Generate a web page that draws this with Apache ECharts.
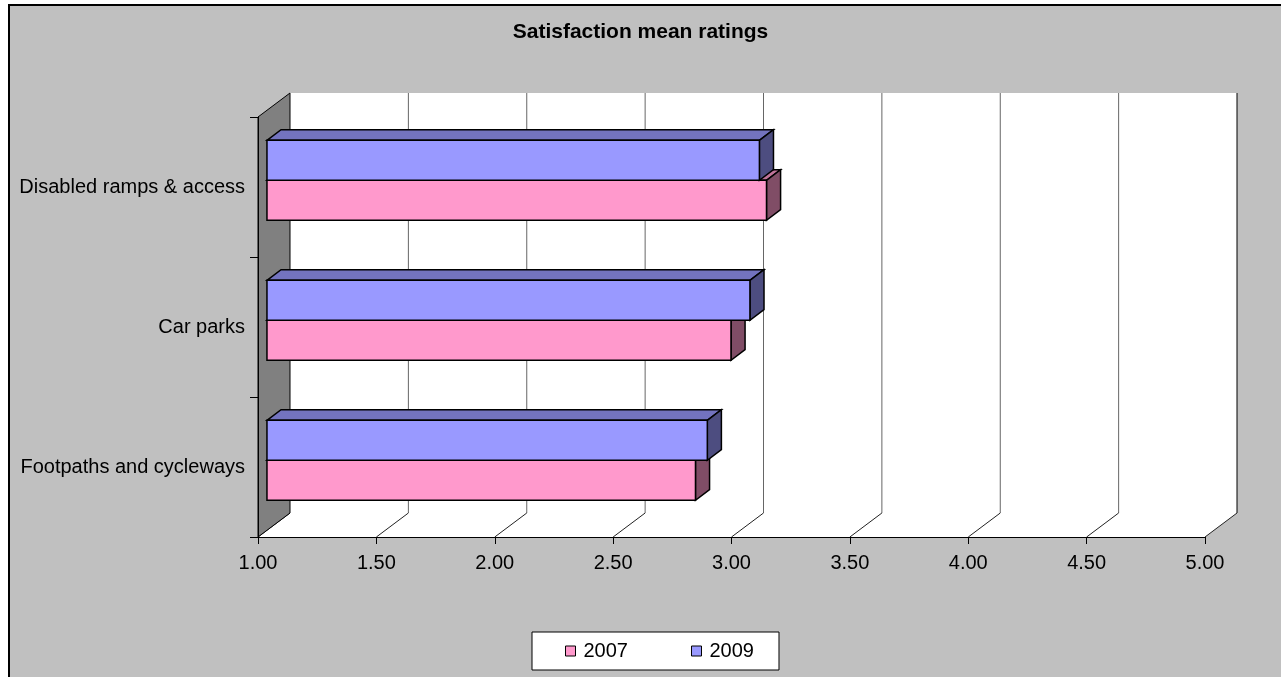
<!DOCTYPE html>
<html>
<head>
<meta charset="utf-8">
<title>Satisfaction mean ratings</title>
<script src="https://cdn.jsdelivr.net/npm/echarts@6/dist/echarts.min.js"></script>
<style>
  html, body { margin: 0; padding: 0; background: #fff; }
  #chart { width: 1281px; height: 677px; }
</style>
</head>
<body>
<div id="chart"></div>
<script>
// Categories, listed top to bottom
const categories = ['Disabled ramps & access', 'Car parks', 'Footpaths and cycleways'];
// Mean ratings per survey year
const values2007 = [3.11, 2.96, 2.81];
const values2009 = [3.08, 3.04, 2.86];
const seriesNames = ['2007', '2009'];
// Value axis ticks
const xTicks = [1, 1.5, 2, 2.5, 3, 3.5, 4, 4.5, 5];

const FONT = "'Liberation Sans', Arial, sans-serif";
// Depth vector of the 3D box (screen px) and bar placement within that depth
const DEPTH = { dx: 32, dy: -24 };
const BAR_FRONT = 0.28, BAR_DEPTH = 0.44, BAR_BAND = 0.2857;

const colors = {
  '2007': { front: '#FF99CC', top: '#BF7399', side: '#804D66' },
  '2009': { front: '#9999FF', top: '#7373BF', side: '#4D4D80' }
};

// Back wall, floor, side wall and gridlines of the 3D frame
function renderFrame(params, api) {
  const cs = params.coordSys;
  const top = cs.y, bottom = cs.y + cs.height;
  const xs = xTicks.map(v => api.coord([v, 0])[0]);
  const x0 = xs[0], x1 = xs[xs.length - 1];
  const dx = DEPTH.dx, dy = DEPTH.dy;
  const children = [];
  // back wall
  children.push({ type: 'polygon', shape: { points: [[x0 + dx, top + dy], [x1 + dx, top + dy], [x1 + dx, bottom + dy], [x0 + dx, bottom + dy]] },
    style: { fill: '#ffffff', stroke: null } });
  // floor
  children.push({ type: 'polygon', shape: { points: [[x0, bottom], [x0 + dx, bottom + dy], [x1 + dx, bottom + dy], [x1, bottom]] },
    style: { fill: '#ffffff', stroke: null } });
  // back wall gridlines
  xs.forEach((x, i) => {
    if (i === 0) return;
    children.push({ type: 'line', shape: { x1: x + dx, y1: top + dy, x2: x + dx, y2: bottom + dy },
      style: { stroke: i === xs.length - 1 ? '#000' : '#666666', lineWidth: 1 } });
  });
  // floor diagonals
  xs.forEach((x) => {
    children.push({ type: 'line', shape: { x1: x, y1: bottom, x2: x + dx, y2: bottom + dy },
      style: { stroke: '#222', lineWidth: 1 } });
  });
  // left side wall
  children.push({ type: 'polygon', shape: { points: [[x0, top], [x0 + dx, top + dy], [x0 + dx, bottom + dy], [x0, bottom]] },
    style: { fill: '#808080', stroke: '#000', lineWidth: 1 } });
  return { type: 'group', children: children };
}

// A 3D bar: front face, top face and right face
function makeBarRenderer(name, upper) {
  const c = colors[name];
  return function (params, api) {
    const cat = api.value(1);
    const val = api.value(0);
    const start = api.coord([xTicks[0], cat]);
    const end = api.coord([val, cat]);
    const band = api.size([0, 1])[1];
    const h = band * BAR_BAND;
    const fx = DEPTH.dx * BAR_FRONT, fy = DEPTH.dy * BAR_FRONT;
    const bx = DEPTH.dx * BAR_DEPTH, by = DEPTH.dy * BAR_DEPTH;
    const xL = start[0] + fx, xR = end[0] + fx;
    const yT = (upper ? start[1] - h : start[1]) + fy;
    const yB = yT + h;
    const stroke = { stroke: '#000', lineWidth: 1.5, lineJoin: 'miter' };
    return {
      type: 'group',
      children: [
        { type: 'polygon', shape: { points: [[xL, yT], [xL + bx, yT + by], [xR + bx, yT + by], [xR, yT]] },
          style: Object.assign({ fill: c.top }, stroke) },
        { type: 'polygon', shape: { points: [[xR, yT], [xR + bx, yT + by], [xR + bx, yB + by], [xR, yB]] },
          style: Object.assign({ fill: c.side }, stroke) },
        { type: 'rect', shape: { x: xL, y: yT, width: xR - xL, height: h },
          style: Object.assign({ fill: c.front }, stroke) }
      ]
    };
  };
}

const chart = echarts.init(document.getElementById('chart'), null, { renderer: 'canvas' });

chart.setOption({
  animation: false,
  backgroundColor: '#ffffff',
  textStyle: { fontFamily: FONT },
  graphic: [{
    type: 'rect', z: -10, silent: true,
    shape: { x: 9, y: 5, width: 1300, height: 700 },
    style: { fill: '#C0C0C0', stroke: '#000', lineWidth: 2 }
  }],
  title: {
    text: 'Satisfaction mean ratings',
    left: 'center',
    top: 22,
    padding: [0, 0, 0, 8],
    textStyle: { fontFamily: FONT, fontSize: 21, fontWeight: 'bold', color: '#000' }
  },
  legend: {
    data: seriesNames,
    left: 532,
    top: 632,
    padding: [9, 25, 9, 33],
    itemGap: 63,
    itemWidth: 10,
    itemHeight: 10,
    icon: 'rect',
    backgroundColor: '#ffffff',
    borderColor: '#000',
    borderWidth: 1,
    borderRadius: 0,
    itemStyle: { borderColor: '#000', borderWidth: 1 },
    textStyle: { fontFamily: FONT, fontSize: 20, color: '#000', padding: [0, 0, 0, 3] }
  },
  grid: { left: 258, top: 117, width: 947, height: 420 },
  xAxis: {
    type: 'value',
    min: xTicks[0],
    max: xTicks[xTicks.length - 1],
    interval: 0.5,
    z: 10,
    axisLine: { show: true, lineStyle: { color: '#000', width: 1 } },
    axisTick: { show: true, length: 7, lineStyle: { color: '#000' } },
    splitLine: { show: false },
    axisLabel: {
      margin: 16,
      fontFamily: FONT, fontSize: 20, color: '#000',
      formatter: v => v.toFixed(2)
    }
  },
  yAxis: {
    type: 'category',
    data: categories,
    inverse: true,
    z: 10,
    axisLine: { show: true, lineStyle: { color: '#000', width: 1 } },
    axisTick: { show: true, length: 8, lineStyle: { color: '#000' } },
    splitLine: { show: false },
    axisLabel: { margin: 13, fontFamily: FONT, fontSize: 20, color: '#000' }
  },
  series: [
    {
      type: 'custom',
      name: 'frame',
      z: 1,
      silent: true,
      renderItem: renderFrame,
      data: [[xTicks[0], 0]],
      encode: { x: 0, y: 1 }
    },
    {
      type: 'custom',
      name: seriesNames[0],
      z: 2,
      itemStyle: { color: colors['2007'].front },
      renderItem: makeBarRenderer('2007', false),
      data: values2007.map((v, i) => [v, i]),
      encode: { x: 0, y: 1 }
    },
    {
      type: 'custom',
      name: seriesNames[1],
      z: 3,
      itemStyle: { color: colors['2009'].front },
      renderItem: makeBarRenderer('2009', true),
      data: values2009.map((v, i) => [v, i]),
      encode: { x: 0, y: 1 }
    }
  ]
});
</script>
</body>
</html>
